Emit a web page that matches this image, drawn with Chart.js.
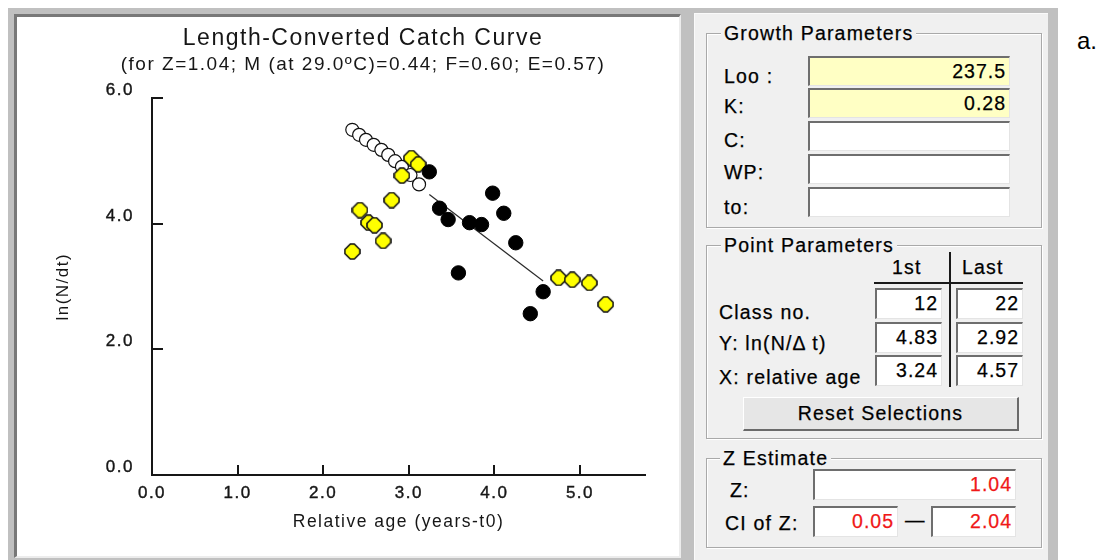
<!DOCTYPE html>
<html>
<head>
<meta charset="utf-8">
<title>Length-Converted Catch Curve</title>
<script src="https://cdn.jsdelivr.net/npm/chart.js@4.4.1/dist/chart.umd.min.js"></script>
<style>
  html, body { margin: 0; padding: 0; background: #fff; width: 1099px; height: 560px; overflow: hidden;
    font-family: "Liberation Sans", Arial, sans-serif; color: #000; }
  .abs { position: absolute; box-sizing: border-box; }
  .frame { left: 8px; top: 8px; width: 1050px; height: 552px; background: #c0c0c0; }
  .well { left: 14px; top: 14px; width: 667px; height: 544px; background: #fff;
    border-left: 3px solid #787878; border-top: 3px solid #787878;
    border-right: 2px solid #ececec; border-bottom: 2px solid #ececec; }
  #plot { position: absolute; left: 17px; top: 17px; }
  .side { left: 694px; top: 13px; width: 354px; height: 547px; background: #f0f0f0;
    border-left: 1px solid #fafafa; border-top: 1px solid #fafafa; }
  .grp { border: 1px solid #a9a9a9; box-shadow: 1px 1px 0 #fff, inset 1px 1px 0 #fff; }
  .gtitle { background: #f0f0f0; padding: 0 3px; font-size: 19.5px; letter-spacing: 1.2px; line-height: 20px;
    white-space: nowrap; -webkit-text-stroke: 0.25px #000; }
  .lbl { font-size: 19.5px; letter-spacing: 1.2px; line-height: 22px; white-space: nowrap; -webkit-text-stroke: 0.25px #000; }
  .box { background: #fff; border-top: 2px solid #6e6e6e; border-left: 2px solid #6e6e6e;
    border-right: 1px solid #e4e4e4; border-bottom: 1px solid #e4e4e4;
    font-size: 19.5px; letter-spacing: 1px; text-align: right; padding-right: 3px; line-height: 27px;
    -webkit-text-stroke: 0.25px currentColor; }
  .yel { background: #ffffc4; }
  .red { color: #f01818; }
  .rule { background: #1a1a1a; }
  .btn { background: #e6e6e6; border-top: 1px solid #fff; border-left: 1px solid #fff;
    border-right: 2px solid #6a6a6a; border-bottom: 2px solid #6a6a6a; text-align: center;
    font-size: 19.5px; letter-spacing: 1.2px; line-height: 30px; -webkit-text-stroke: 0.25px #000; }
  .tag { left: 1077px; top: 27px; font-size: 24px; line-height: 28px; }
</style>
</head>
<body>
<div class="abs frame"></div>
<div class="abs well"></div>
<canvas id="plot" width="662" height="539"></canvas>

<div class="abs side"></div>

<!-- Growth parameters -->
<div class="abs grp" style="left:706px;top:33px;width:336px;height:195px;"></div>
<div class="abs gtitle" style="left:721px;top:23px;">Growth Parameters</div>
<div class="abs lbl" style="left:724px;top:65px;">Loo :</div>
<div class="abs lbl" style="left:724px;top:95px;">K:</div>
<div class="abs lbl" style="left:724px;top:129px;">C:</div>
<div class="abs lbl" style="left:724px;top:161px;">WP:</div>
<div class="abs lbl" style="left:724px;top:196px;">to:</div>
<div class="abs box yel" style="left:808px;top:56px;width:202px;height:30px;">237.5</div>
<div class="abs box yel" style="left:808px;top:88px;width:202px;height:30px;">0.28</div>
<div class="abs box" style="left:808px;top:121px;width:202px;height:30px;"></div>
<div class="abs box" style="left:808px;top:154px;width:202px;height:30px;"></div>
<div class="abs box" style="left:808px;top:187px;width:202px;height:30px;"></div>

<!-- Point parameters -->
<div class="abs grp" style="left:706px;top:245px;width:336px;height:194px;"></div>
<div class="abs gtitle" style="left:721px;top:235px;">Point Parameters</div>
<div class="abs lbl" style="left:892px;top:256px;">1st</div>
<div class="abs lbl" style="left:962px;top:256px;">Last</div>
<div class="abs rule" style="left:874px;top:282px;width:149px;height:2px;"></div>
<div class="abs rule" style="left:949px;top:252px;width:2px;height:135px;"></div>
<div class="abs lbl" style="left:719px;top:301px;">Class no.</div>
<div class="abs lbl" style="left:719px;top:332px;">Y: ln(N/&Delta; t)</div>
<div class="abs lbl" style="left:719px;top:366px;">X: relative age</div>
<div class="abs box" style="left:875px;top:288px;width:67px;height:31px;">12</div>
<div class="abs box" style="left:956px;top:288px;width:67px;height:31px;">22</div>
<div class="abs box" style="left:875px;top:322px;width:67px;height:31px;">4.83</div>
<div class="abs box" style="left:956px;top:322px;width:67px;height:31px;">2.92</div>
<div class="abs box" style="left:875px;top:355px;width:67px;height:31px;">3.24</div>
<div class="abs box" style="left:956px;top:355px;width:67px;height:31px;">4.57</div>
<div class="abs btn" style="left:743px;top:397px;width:276px;height:34px;">Reset Selections</div>

<!-- Z estimate -->
<div class="abs grp" style="left:706px;top:458px;width:336px;height:90px;"></div>
<div class="abs gtitle" style="left:720px;top:448px;">Z Estimate</div>
<div class="abs lbl" style="left:730px;top:479px;">Z:</div>
<div class="abs lbl" style="left:725px;top:512px;">CI of Z:</div>
<div class="abs box red" style="left:813px;top:469px;width:203px;height:31px;">1.04</div>
<div class="abs box red" style="left:813px;top:506px;width:85px;height:31px;">0.05</div>
<div class="abs lbl" style="left:905px;top:509px;letter-spacing:0;">&mdash;</div>
<div class="abs box red" style="left:931px;top:506px;width:85px;height:31px;">2.04</div>

<div class="abs tag">a.</div>

<script>
// Relative age (years - t0) and ln(N/dt) for each group of length classes.
// Extrapolated points (open circles) for the not fully recruited classes.
const openAge = [2.34, 2.42, 2.50, 2.59, 2.68, 2.76, 2.84, 2.92, 3.02, 3.12];
const openLn  = [5.50, 5.42, 5.34, 5.26, 5.18, 5.10, 5.00, 4.91, 4.78, 4.63];

// Observed points outside the selected range (yellow).
const otherAge = [2.34, 2.43, 2.53, 2.60, 2.70, 2.80, 2.92, 3.03, 3.11, 4.75, 4.91, 5.11, 5.30];
const otherLn  = [3.56, 4.22, 4.02, 3.98, 3.73, 4.38, 4.77, 5.05, 4.95, 3.14, 3.11, 3.06, 2.72];

// Selected points, classes 12 to 22 (black).
const usedAge = [3.24, 3.36, 3.46, 3.58, 3.71, 3.85, 3.98, 4.11, 4.25, 4.42, 4.57];
const usedLn  = [4.83, 4.25, 4.07, 3.22, 4.02, 3.99, 4.49, 4.17, 3.70, 2.57, 2.92];

// Regression line ends (Z = 1.04) over the selected range.
const fitAge = [3.24, 4.57];
const fitLn  = [4.47, 3.09];

// Axis ticks.
const xTickValues = [0, 1, 2, 3, 4, 5];
const xTickLabels = ['0.0', '1.0', '2.0', '3.0', '4.0', '5.0'];
const yTickValues = [0, 2, 4, 6];
const yTickLabels = ['0.0', '2.0', '4.0', '6.0'];

const titleText = 'Length-Converted Catch Curve';
const subtitleText = '(for Z=1.04; M (at 29.0\u00BAC)=0.44; F=0.60; E=0.57)';
const xTitle = 'Relative age (years-t0)';
const yTitle = 'ln(N/dt)';

const pairs = (xs, ys) => xs.map((x, i) => ({ x: x, y: ys[i] }));
const FONT = '"Liberation Sans", Arial, sans-serif';
const INK = '#161616';

// Blunt yellow diamond used as the marker of the unselected observations.
function bluntDiamond(half, cut, fill, stroke) {
  const c = document.createElement('canvas');
  const s = Math.ceil(half * 2 + 2);
  c.width = s; c.height = s;
  const g = c.getContext('2d');
  const m = s / 2;
  g.beginPath();
  g.moveTo(m - cut, m - half); g.lineTo(m + cut, m - half);
  g.lineTo(m + half, m - cut); g.lineTo(m + half, m + cut);
  g.lineTo(m + cut, m + half); g.lineTo(m - cut, m + half);
  g.lineTo(m - half, m + cut); g.lineTo(m - half, m - cut);
  g.closePath();
  g.fillStyle = fill; g.fill();
  g.lineWidth = 1.6; g.strokeStyle = stroke; g.stroke();
  return c;
}
const yellowMark = bluntDiamond(7.5, 2, '#ffff00', '#111111');

// Inward tick marks on both axes and the wide lettering of the plot texts.
const axisTicks = {
  id: 'axisTicks',
  beforeDraw(chart) { chart.ctx.letterSpacing = '1.5px'; },
  beforeDatasetsDraw(chart) {
    const { ctx, chartArea, scales } = chart;
    ctx.save();
    ctx.strokeStyle = INK;
    ctx.lineWidth = 2;
    ctx.beginPath();
    yTickValues.filter(v => v > 0).forEach(v => {
      const py = Math.round(scales.y.getPixelForValue(v));
      ctx.moveTo(chartArea.left, py);
      ctx.lineTo(chartArea.left + 11, py);
    });
    xTickValues.filter(v => v > 0).forEach(v => {
      const px = Math.round(scales.x.getPixelForValue(v));
      ctx.moveTo(px, chartArea.bottom);
      ctx.lineTo(px, chartArea.bottom - 10);
    });
    ctx.stroke();
    ctx.restore();
  }
};

new Chart(document.getElementById('plot'), {
  type: 'scatter',
  data: {
    datasets: [
      {
        type: 'line', label: 'fit', data: pairs(fitAge, fitLn),
        borderColor: '#2a2a2a', borderWidth: 1.2, pointRadius: 0, fill: false, order: 4
      },
      {
        label: 'extrapolated', data: pairs(openAge, openLn),
        pointStyle: 'circle', pointRadius: 6.5, backgroundColor: '#ffffff',
        borderColor: '#111', borderWidth: 1.2, order: 3
      },
      {
        label: 'not used', data: pairs(otherAge, otherLn),
        pointStyle: yellowMark, pointRadius: 8, order: 2
      },
      {
        label: 'used', data: pairs(usedAge, usedLn),
        pointStyle: 'circle', pointRadius: 7.2, backgroundColor: '#000000',
        borderColor: '#000000', borderWidth: 1, order: 1
      }
    ]
  },
  options: {
    responsive: false,
    animation: false,
    events: [],
    layout: { padding: { left: 64, right: 34, top: 0, bottom: 0 } },
    plugins: {
      legend: { display: false },
      tooltip: { enabled: false },
      title: {
        display: true, text: titleText, color: INK,
        font: { family: FONT, size: 23, weight: 'normal' },
        padding: { top: 8, bottom: 0 }
      },
      subtitle: {
        display: true, text: subtitleText, color: INK,
        font: { family: FONT, size: 19, weight: 'normal' },
        padding: { top: 1, bottom: 22 }
      }
    },
    scales: {
      x: {
        type: 'linear', min: 0, max: 5.76,
        grid: { display: true, drawOnChartArea: false, drawTicks: false },
        border: { display: true, width: 2, color: INK },
        ticks: {
          stepSize: 1, includeBounds: false, autoSkip: false, maxRotation: 0,
          padding: 8, color: INK, font: { family: FONT, size: 17 },
          textStrokeColor: INK, textStrokeWidth: 0.4,
          callback: v => { const i = xTickValues.indexOf(v); return i < 0 ? '' : xTickLabels[i]; }
        },
        title: {
          display: true, text: xTitle, color: INK,
          font: { family: FONT, size: 17.5 }, padding: { top: 0, bottom: 23 }
        },
        afterFit: s => { s.height = 81; }
      },
      y: {
        type: 'linear', min: 0, max: 6,
        grid: { display: true, drawOnChartArea: false, drawTicks: false },
        border: { display: true, width: 2, color: INK },
        ticks: {
          stepSize: 2, padding: 18, labelOffset: -8, color: INK,
          font: { family: FONT, size: 17 },
          textStrokeColor: INK, textStrokeWidth: 0.4,
          callback: v => { const i = yTickValues.indexOf(v); return i < 0 ? '' : yTickLabels[i]; }
        },
        title: {
          display: true, text: yTitle, color: INK,
          font: { family: FONT, size: 17 }, padding: { top: -28, bottom: 0 }
        },
        afterFit: s => { s.width = 71; }
      }
    }
  },
  plugins: [axisTicks]
});
</script>
</body>
</html>
